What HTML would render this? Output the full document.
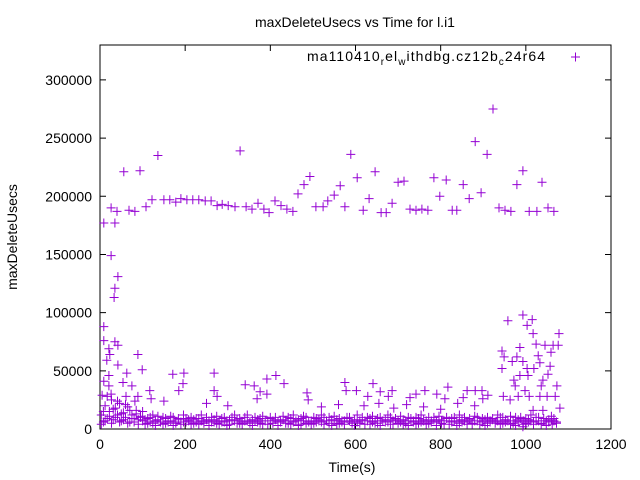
<!DOCTYPE html>
<html><head><meta charset="utf-8"><style>
html,body{margin:0;padding:0;background:#fff;}
svg{display:block;font-family:"Liberation Sans",sans-serif;}
</style></head><body>
<svg id="chart" width="640" height="480" viewBox="0 0 640 480" xmlns="http://www.w3.org/2000/svg">
<rect width="640" height="480" fill="#fff"/>
<text x="355" y="27" font-size="14" text-anchor="middle">maxDeleteUsecs vs Time for l.i1</text>
<text transform="translate(17,237) rotate(-90)" font-size="14" text-anchor="middle">maxDeleteUsecs</text>
<text x="352" y="472" font-size="14" text-anchor="middle">Time(s)</text>
<g id="axes"></g>
<g id="points"></g>
<g>
<text x="307" y="61" font-size="14" textLength="238" lengthAdjust="spacing">ma110410<tspan font-size="10" dy="4">r</tspan><tspan dy="-4">el</tspan><tspan font-size="10" dy="4">w</tspan><tspan dy="-4">ithdbg.cz12b</tspan><tspan font-size="10" dy="4">c</tspan><tspan dy="-4">24r64</tspan></text>
<path d="M571 57h9M575.5 52.5v9" stroke="#9400d3" stroke-width="1"/>
</g>
</svg>
<script>
const xTicks=[0,200,400,600,800,1000,1200];
const yTicks=[0,50000,100000,150000,200000,250000,300000];
const upperX=[9,26,40,56,35,68,82,94,108,122,136,150,164,178,190,204,218,232,247,261,275,287,301,317,329,343,357,371,385,397,411,425,439,453,465,479,493,507,524,535,550,564,575,589,604,618,632,646,660,672,686,700,714,728,742,756,770,784,798,813,827,838,853,867,881,895,909,923,937,951,965,979,993,1008,1026,1038,1052,1066];
const upperY=[177000,190000,187000,221000,177000,188000,187000,222000,191000,197000,235000,197000,197000,195000,198000,197000,197000,197000,196000,196000,192000,193000,192000,191000,239000,191000,189000,194000,189000,186000,196000,192000,189000,187000,202000,210000,217000,191000,191000,196000,201000,209000,191000,236000,216000,188000,198000,221000,186000,186000,194000,212000,213000,189000,188000,189000,188000,216000,200000,214000,188000,188000,210000,198000,247000,203000,236000,275000,190000,188000,187000,210000,222000,187000,187000,212000,190000,187000];
const midX=[26,42,35,33,9,9,35,42,21,23,16,89,42,99,21,63,9,54,21,75,117,171,197,195,185,268,268,275,341,362,392,413,432,376,392,369,486,489,5,26,61,89,82,575,578,602,641,629,658,686,677,728,742,763,791,817,810,853,862,881,897,899,911,958,993,1003,1015,1017,1078,1024,1045,1064,1076,1059,986,944,949,1029,968,979,993,1033,1057,944,1019,1003,986,1005,1052,972,1040,975,1036,1073,982,1008,1033,1069,947,963,998,1050,1017,1040,1080,993,1062,620,655,690,720,760,800,840,880,520,560,300,250,150,120];
const midY=[149000,131000,121000,113000,88000,76000,75000,72000,69000,64000,59000,64000,55000,51000,46000,48000,41000,40000,37000,37000,33000,47000,48000,39000,33000,48000,33000,28000,38000,37000,43000,46000,39000,32000,30000,26000,31000,25000,29000,30000,28000,28000,24000,40000,33000,33000,39000,28000,32000,33000,28000,27000,30000,33000,30000,36000,26000,27000,33000,33000,33000,26000,29000,93000,98000,89000,94000,82000,82000,73000,72000,72000,72000,66000,70000,67000,62000,63000,58000,62000,58000,57000,54000,52000,52000,52000,46000,46000,47000,42000,42000,37000,37000,37000,28000,28000,28000,28000,28000,25000,33000,28000,16000,16000,18000,2000,4000,20000,22000,18000,21000,19000,17000,22000,20000,19000,21000,20000,22000,24000,26000];
const bandX=[3,8,12,17,22,27,31,36,41,46,50,55,60,65,70,75,80,85,90,95,100,106,112,118,124,130,136,142,148,154,160,166,172,178,184,190,196,202,208,214,220,226,232,238,244,250,256,262,268,274,280,286,292,298,304,310,316,322,328,334,340,346,352,358,364,370,376,382,388,394,400,406,412,418,424,430,436,442,448,454,460,466,472,478,484,490,496,502,508,514,520,526,532,538,544,550,556,562,568,574,580,586,592,598,604,610,616,622,628,634,640,646,652,658,664,670,676,682,688,694,700,706,712,718,724,730,736,742,748,754,760,766,772,778,784,790,796,802,808,814,820,826,832,838,844,850,856,862,868,874,880,886,892,898,904,910,916,922,928,934,940,946,952,958,964,970,976,982,988,994,1000,1006,1012,1018,1024,1030,1036,1042,1048,1054,1060,1066,1072];
const bandY1k=[12,6,20,9,15,25,8,18,12,22,7,14,10,19,6,12,9,16,8,11,7,
8,5,10,5,7,11,6,4,9,6,7,10,5,8,6,6,9,7,4,8,6,9,7,5,10,7,6,8,5,7,9,6,7,4,10,7,8,5,6,10,7,5,8,7,6,9,4,7,7,10,5,8,6,7,11,7,5,9,6,7,8,4,7,10,6,7,5,9,7,6,10,7,5,8,7,4,9,6,7,10,7,5,8,6,7,10,4,7,9,6,7,5,10,7,8,6,4,7,9,7,6,8,5,10,7,7,4,9,6,8,7,5,7,10,6,8,7,4,9,7,6,10,7,5,8,7,6,9,4,7,10,7,6,8,5,7,9,6,7,10,5,8,7,4,7,10,6,9,7,5,8,7,6,10,7,4,9,7,6,8,7,5];
const bandY2k=[4,15,7,28,11,5,17,10,24,6,13,8,21,5,16,9,6,13,4,10,15,
4,9,6,12,3,8,6,10,5,7,11,3,6,9,4,12,6,8,10,5,9,4,12,6,8,3,10,6,11,4,6,10,3,8,7,12,5,9,4,7,12,6,3,10,8,5,11,7,4,9,7,10,3,6,8,5,10,4,12,7,3,9,11,5,7,4,10,6,8,12,4,7,10,3,11,8,5,7,4,9,10,6,3,12,5,8,7,10,4,11,5,9,3,7,6,12,10,4,8,5,11,4,7,3,9,6,10,5,12,7,4,10,6,8,3,11,5,7,10,4,9,7,3,12,6,10,4,8,5,11,7,4,9,3,10,6,8,5,12,4,10,6,7,11,5,3,8,10,4,9,6,12,4,7,10,5,7,3,8,11,9,6];

const L=100,R=611,T=45,B=429,XMAX=1200,YMAX=330000;
function sx(v){return L+(v/XMAX)*(R-L);}
function sy(v){return B-(v/YMAX)*(B-T);}
const NS="http://www.w3.org/2000/svg";
const axes=document.getElementById('axes');
let d=`M${L} ${T}H${R}V${B}H${L}Z`;
xTicks.forEach(t=>{const x=sx(t);d+=`M${x} ${B}v-6M${x} ${T}v6`;});
yTicks.forEach(t=>{const y=sy(t);d+=`M${L} ${y}h6M${R} ${y}h-6`;});
const fr=document.createElementNS(NS,'path');
fr.setAttribute('d',d);fr.setAttribute('stroke','#000');fr.setAttribute('fill','none');fr.setAttribute('stroke-width','1');


axes.appendChild(fr);
xTicks.forEach(t=>{const e=document.createElementNS(NS,'text');
e.setAttribute('x',sx(t));e.setAttribute('y',B+20);e.setAttribute('font-size','14');e.setAttribute('text-anchor','middle');e.textContent=t;


axes.appendChild(e);});
yTicks.forEach(t=>{const e=document.createElementNS(NS,'text');
e.setAttribute('x',L-8);e.setAttribute('y',sy(t)+5);e.setAttribute('font-size','14');e.setAttribute('text-anchor','end');e.textContent=t;


axes.appendChild(e);});
const pts=document.getElementById('points');
let pd='';
function add(x,y){const px=sx(x),py=sy(y);pd+=`M${(px-4.5).toFixed(1)} ${py.toFixed(1)}h9M${px.toFixed(1)} ${(py-4.5).toFixed(1)}v9`;}
upperX.forEach((x,i)=>add(x,upperY[i]));
midX.forEach((x,i)=>add(x,midY[i]));
bandX.forEach((x,i)=>{add(x,bandY1k[i]*1000);add(x,bandY2k[i]*1000);});
const p=document.createElementNS(NS,'path');
p.setAttribute('d',pd);p.setAttribute('stroke','#9400d3');p.setAttribute('stroke-width','1');p.setAttribute('fill','none');


pts.appendChild(p);
</script>
</body></html>
